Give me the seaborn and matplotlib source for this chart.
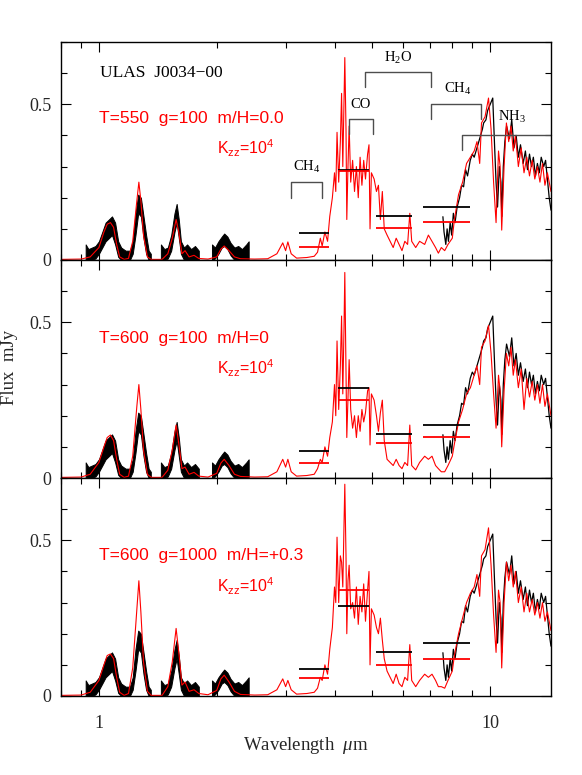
import numpy as np
import pandas as pd
import matplotlib
matplotlib.use("Agg")
import matplotlib.pyplot as plt
from matplotlib.ticker import MultipleLocator, FixedLocator, LogLocator, NullFormatter, FuncFormatter
import seaborn as sns

# ---- observed near-IR spectrum (noisy, given as lower/upper envelope) ----
nir_seg = [1] * 22 + [2] * 13 + [3] * 12
nir_wl = [0.925, 0.94, 0.96, 0.98, 1.00, 1.02, 1.04, 1.06, 1.08, 1.10, 1.12, 1.14, 1.17, 1.20,
          1.22, 1.24, 1.26, 1.28, 1.30, 1.32, 1.34, 1.357,
          1.44, 1.47, 1.50, 1.53, 1.56, 1.58, 1.60, 1.62, 1.65, 1.68, 1.72, 1.76, 1.80,
          1.945, 1.98, 2.02, 2.06, 2.09, 2.13, 2.17, 2.22, 2.27, 2.32, 2.38, 2.414]
nir_lo = [0.0, 0.0, 0.0, 0.005, 0.02, 0.04, 0.06, 0.07, 0.08, 0.05, 0.01, 0.0, 0.0, 0.0,
          0.02, 0.08, 0.15, 0.14, 0.07, 0.02, 0.0, 0.0,
          0.0, 0.0, 0.005, 0.03, 0.09, 0.12, 0.07, 0.02, 0.0, 0.0, 0.0, 0.0, 0.0,
          0.0, 0.005, 0.02, 0.04, 0.045, 0.035, 0.015, 0.0, 0.0, 0.0, 0.0, 0.0]
nir_hi = [0.05, 0.035, 0.04, 0.045, 0.06, 0.09, 0.12, 0.13, 0.14, 0.12, 0.06, 0.04, 0.03, 0.03,
          0.06, 0.15, 0.21, 0.20, 0.14, 0.08, 0.03, 0.02,
          0.05, 0.035, 0.04, 0.08, 0.15, 0.18, 0.13, 0.06, 0.04, 0.05, 0.035, 0.045, 0.03,
          0.05, 0.04, 0.06, 0.075, 0.085, 0.075, 0.055, 0.04, 0.045, 0.035, 0.05, 0.06]

# ---- observed mid-IR (IRS) spectrum ----
mir_wl = [7.57, 7.62, 7.70, 7.76, 7.82, 7.90, 7.97, 8.05, 8.13, 8.23, 8.35, 8.45, 8.55, 8.65,
          8.75, 8.89, 9.00, 9.10, 9.25, 9.40, 9.55, 9.62, 9.75, 9.85, 10.00, 10.15, 10.25,
          10.35, 10.44, 10.55, 10.65, 10.71, 10.80, 10.90, 11.01, 11.20, 11.35, 11.50, 11.65,
          11.80, 11.95, 12.14, 12.30, 12.45, 12.60, 12.75, 12.89, 13.05, 13.20, 13.35, 13.50,
          13.70, 13.85, 14.00, 14.15, 14.30]
mir_flux = [0.139, 0.09, 0.05, 0.10, 0.06, 0.12, 0.08, 0.15, 0.12, 0.17, 0.20, 0.24, 0.235, 0.29,
            0.27, 0.32, 0.34, 0.33, 0.36, 0.39, 0.42, 0.44, 0.45, 0.48, 0.50, 0.52, 0.38,
            0.25, 0.17, 0.30, 0.25, 0.14, 0.30, 0.38, 0.43, 0.39, 0.45, 0.36, 0.40,
            0.33, 0.37, 0.31, 0.35, 0.29, 0.34, 0.30, 0.33, 0.27, 0.31, 0.28, 0.33,
            0.30, 0.32, 0.26, 0.20, 0.16]

# ---- model spectra, one per panel ----
model_wl = [0.80, 0.90, 0.95, 1.00, 1.03, 1.05, 1.07, 1.09, 1.11, 1.13, 1.16, 1.19, 1.22, 1.25,
            1.265, 1.28, 1.30, 1.33, 1.36, 1.45, 1.50, 1.54, 1.575, 1.60, 1.63, 1.66, 1.70,
            1.75, 1.80, 1.90, 2.00, 2.05, 2.09, 2.15, 2.22, 2.30, 2.50, 2.70, 2.85, 2.95,
            3.00, 3.04, 3.10, 3.20, 3.40, 3.55, 3.62, 3.68, 3.72, 3.78, 3.84, 3.89, 3.95,
            4.00, 4.03, 4.06, 4.10, 4.14, 4.17, 4.20, 4.23, 4.25, 4.28, 4.30, 4.33, 4.36,
            4.40, 4.45, 4.50, 4.55, 4.60, 4.65, 4.70, 4.75, 4.80, 4.86, 4.90, 4.93, 4.97,
            5.05, 5.12, 5.18, 5.24, 5.30, 5.36, 5.45, 5.55, 5.65, 5.75, 5.85, 5.95, 6.05,
            6.15, 6.23, 6.30, 6.45, 6.60, 6.80, 6.95, 7.10, 7.25, 7.37, 7.50, 7.65, 7.80,
            8.00, 8.10, 8.30, 8.50, 8.70, 8.90, 9.10, 9.25, 9.40, 9.50, 9.70, 9.90, 10.05,
            10.20, 10.35, 10.50, 10.60, 10.70, 10.85, 11.00, 11.15, 11.30, 11.45, 11.60,
            11.80, 12.00, 12.20, 12.40, 12.60, 12.80, 13.00, 13.20, 13.40, 13.60, 13.80,
            14.00, 14.30]
model_p1 = [0.002, 0.003, 0.01, 0.04, 0.09, 0.115, 0.12, 0.105, 0.05, 0.01, 0.002, 0.005, 0.06, 0.19,
            0.25, 0.19, 0.08, 0.01, 0.002, 0.002, 0.02, 0.07, 0.13, 0.09, 0.02, 0.03, 0.01,
            0.015, 0.005, 0.003, 0.01, 0.035, 0.045, 0.03, 0.01, 0.004, 0.003, 0.004, 0.02, 0.055,
            0.03, 0.058, 0.02, 0.006, 0.008, 0.012, 0.025, 0.07, 0.045, 0.09, 0.06, 0.14, 0.20,
            0.28, 0.22, 0.41, 0.25, 0.38, 0.535, 0.30, 0.50, 0.65, 0.42, 0.13, 0.30, 0.43,
            0.25, 0.32, 0.22, 0.30, 0.20, 0.33, 0.24, 0.32, 0.26, 0.34, 0.37, 0.10, 0.28,
            0.26, 0.22, 0.24, 0.13, 0.22, 0.10, 0.08, 0.06, 0.04, 0.07, 0.05, 0.03, 0.06,
            0.05, 0.15, 0.06, 0.04, 0.06, 0.05, 0.08, 0.06, 0.04, 0.022, 0.04, 0.03, 0.05,
            0.07, 0.13, 0.21, 0.25, 0.31, 0.33, 0.35, 0.38, 0.31, 0.44, 0.46, 0.52, 0.42,
            0.25, 0.12, 0.35, 0.30, 0.096, 0.30, 0.44, 0.38, 0.43, 0.35, 0.40,
            0.30, 0.36, 0.28, 0.33, 0.27, 0.32, 0.26, 0.30, 0.25, 0.31, 0.24,
            0.28, 0.22]
model_p2 = [0.002, 0.003, 0.012, 0.05, 0.10, 0.13, 0.138, 0.12, 0.06, 0.012, 0.002, 0.006, 0.07, 0.23,
            0.30, 0.22, 0.09, 0.012, 0.002, 0.002, 0.025, 0.09, 0.17, 0.11, 0.03, 0.035, 0.012,
            0.018, 0.006, 0.003, 0.015, 0.048, 0.06, 0.04, 0.012, 0.005, 0.003, 0.004, 0.02, 0.06,
            0.035, 0.06, 0.02, 0.006, 0.008, 0.012, 0.03, 0.06, 0.05, 0.10, 0.07, 0.13, 0.18,
            0.30, 0.20, 0.44, 0.22, 0.36, 0.52, 0.27, 0.48, 0.66, 0.35, 0.13, 0.25, 0.38,
            0.22, 0.16, 0.20, 0.13, 0.20, 0.15, 0.22, 0.18, 0.21, 0.28, 0.29, 0.106, 0.27,
            0.25, 0.20, 0.15, 0.21, 0.25, 0.12, 0.06, 0.05, 0.04, 0.06, 0.04, 0.03, 0.05,
            0.04, 0.17, 0.04, 0.026, 0.05, 0.07, 0.06, 0.07, 0.04, 0.03, 0.02, 0.02, 0.04,
            0.07, 0.11, 0.18, 0.22, 0.27, 0.29, 0.33, 0.36, 0.30, 0.42, 0.44, 0.49, 0.40,
            0.27, 0.16, 0.33, 0.28, 0.10, 0.28, 0.40, 0.36, 0.42, 0.33, 0.38,
            0.29, 0.35, 0.22, 0.32, 0.26, 0.31, 0.25, 0.30, 0.24, 0.30, 0.23,
            0.27, 0.20]
model_p3 = [0.002, 0.003, 0.012, 0.05, 0.10, 0.13, 0.135, 0.12, 0.06, 0.012, 0.002, 0.008, 0.09, 0.28,
            0.37, 0.27, 0.11, 0.015, 0.002, 0.002, 0.03, 0.11, 0.217, 0.14, 0.035, 0.045, 0.015,
            0.02, 0.008, 0.004, 0.018, 0.055, 0.067, 0.045, 0.015, 0.005, 0.003, 0.004, 0.02, 0.055,
            0.03, 0.05, 0.02, 0.006, 0.008, 0.012, 0.025, 0.06, 0.05, 0.10, 0.07, 0.15, 0.22,
            0.35, 0.30, 0.51, 0.30, 0.45, 0.43, 0.35, 0.55, 0.68, 0.45, 0.20, 0.37, 0.42,
            0.28, 0.30, 0.25, 0.35, 0.23, 0.32, 0.27, 0.36, 0.24, 0.34, 0.40, 0.10, 0.28,
            0.26, 0.22, 0.20, 0.25, 0.18, 0.12, 0.08, 0.06, 0.04, 0.07, 0.04, 0.03, 0.06,
            0.05, 0.165, 0.05, 0.03, 0.05, 0.07, 0.06, 0.07, 0.05, 0.03, 0.03, 0.025, 0.05,
            0.08, 0.13, 0.20, 0.25, 0.30, 0.33, 0.35, 0.39, 0.32, 0.45, 0.47, 0.54, 0.42,
            0.26, 0.14, 0.34, 0.30, 0.09, 0.30, 0.43, 0.37, 0.42, 0.35, 0.40,
            0.30, 0.35, 0.27, 0.33, 0.27, 0.31, 0.26, 0.30, 0.25, 0.30, 0.24,
            0.27, 0.21]

# ---- IRAC photometry (band edges, observed and model fluxes) ----
band_lo = [3.24, 4.08, 5.11, 6.73]
band_hi = [3.87, 4.89, 6.31, 8.89]
phot_obs = [0.087, 0.29, 0.14, 0.171]
phot_model = [[0.042, 0.285, 0.103, 0.122],
              [0.048, 0.25, 0.112, 0.131],
              [0.058, 0.34, 0.099, 0.119]]

model_labels = ["T=550  g=100  m/H=0.0",
                "T=600  g=100  m/H=0",
                "T=600  g=1000  m/H=+0.3"]

nir = pd.DataFrame({"seg": nir_seg, "wl": nir_wl, "lo": nir_lo, "hi": nir_hi})
mir = pd.DataFrame({"wl": mir_wl, "flux": mir_flux})
models = [model_p1, model_p2, model_p3]

sns.set_style("ticks")
plt.rcParams["font.family"] = ["Liberation Serif", "DejaVu Serif"]
plt.rcParams["mathtext.default"] = "regular"
plt.rcParams["mathtext.fontset"] = "custom"
plt.rcParams["mathtext.rm"] = "Liberation Serif"
plt.rcParams["mathtext.it"] = "Liberation Serif:italic"

fig = plt.figure(figsize=(5.82, 7.75), dpi=100)
left, width = 61 / 582, 490 / 582
h = 218 / 775
bottoms = [1 - 260 / 775, 1 - 478 / 775, 1 - 696 / 775]
axes = [fig.add_axes([left, b, width, h]) for b in bottoms]

red = "#ff0000"
label_y = [(0.455, 0.36), (0.449, 0.353), (0.452, 0.353)]
sans = ["Liberation Sans", "DejaVu Sans"]

for i, ax in enumerate(axes):
    for seg, g in nir.groupby("seg"):
        ax.fill_between(g["wl"], g["lo"], g["hi"], color="black", lw=0.7)
    sns.lineplot(data=mir, x="wl", y="flux", ax=ax, color="black", lw=0.9,
                 sort=False, estimator=None)
    sns.lineplot(x=model_wl, y=models[i], ax=ax, color=red, lw=0.8,
                 sort=False, estimator=None)
    ax.hlines(phot_obs, band_lo, band_hi, color="black", lw=1.3)
    ax.hlines(phot_model[i], band_lo, band_hi, color=red, lw=1.3)

    ax.set_xscale("log")
    ax.set_xlim(0.8, 14.3)
    ax.set_ylim(0, 0.7)
    ax.xaxis.set_major_locator(FixedLocator([1, 10]))
    ax.xaxis.set_minor_locator(LogLocator(base=10, subs=np.arange(2, 10)))
    ax.xaxis.set_minor_formatter(NullFormatter())
    ax.yaxis.set_major_locator(MultipleLocator(0.5))
    ax.yaxis.set_minor_locator(MultipleLocator(0.1))
    ax.yaxis.set_major_formatter(FuncFormatter(lambda v, p: "0" if v == 0 else f"{v:g}"))
    ax.tick_params(which="both", direction="in", top=True, right=True,
                   width=0.8, labelsize=13, color="black")
    ax.tick_params(which="major", length=7)
    ax.tick_params(which="minor", length=4)
    ax.tick_params(axis="y", pad=7)
    ax.tick_params(axis="x", pad=14)
    if i < 2:
        ax.set_xticklabels([])
    else:
        ax.xaxis.set_major_formatter(FuncFormatter(lambda v, p: f"{v:g}"))
    for s in ax.spines.values():
        s.set_linewidth(1.0)
        s.set_color("black")
    ax.set_xlabel("")
    ax.set_ylabel("")

    ax.text(1.0, label_y[i][0], model_labels[i], color=red, fontsize=12.5,
            family=sans, ha="left", va="center")
    ax.text(2.0, label_y[i][1], r"K$_{zz}$=10$^4$", color=red, fontsize=11.5,
            family=sans, ha="left", va="center")

# annotations on the top panel
ax = axes[0]
ax.text(1.006, 0.60, "ULAS  J0034\u221200", color="black", fontsize=12.5,
        ha="left", va="center")
brackets = [
    (3.09, 3.71, 0.20, 0.25, "CH$_4$", 3.39, 0.30),
    (4.35, 5.01, 0.404, 0.452, "CO", 4.67, 0.50),
    (4.78, 7.06, 0.554, 0.603, "H$_2$O", 5.81, 0.65),
    (7.06, 9.48, 0.452, 0.50, "CH$_4$", 8.26, 0.55),
]
gray = "0.3"
for lo, hi, bot, top, lab, lx, ly in brackets:
    ax.plot([lo, lo, hi, hi], [bot, top, top, bot], color=gray, lw=1.0)
    ax.text(lx, ly, lab, fontsize=10.5, ha="center", va="center", color="black")
ax.plot([8.48, 8.48, 14.3], [0.353, 0.40, 0.40], color=gray, lw=1.0, clip_on=False)
ax.text(11.4, 0.46, "NH$_3$", fontsize=10.5, ha="center", va="center", color="black")

fig.text(306 / 582, 1 - 745 / 775, r"Wavelength  $\mathit{\mu}$m", fontsize=13.5,
         ha="center", va="center")
fig.text(9 / 582, 1 - 367 / 775, "Flux  mJy", fontsize=13.5, rotation=90,
         ha="center", va="center")

fig.savefig("out.png", dpi=100, facecolor="white")
